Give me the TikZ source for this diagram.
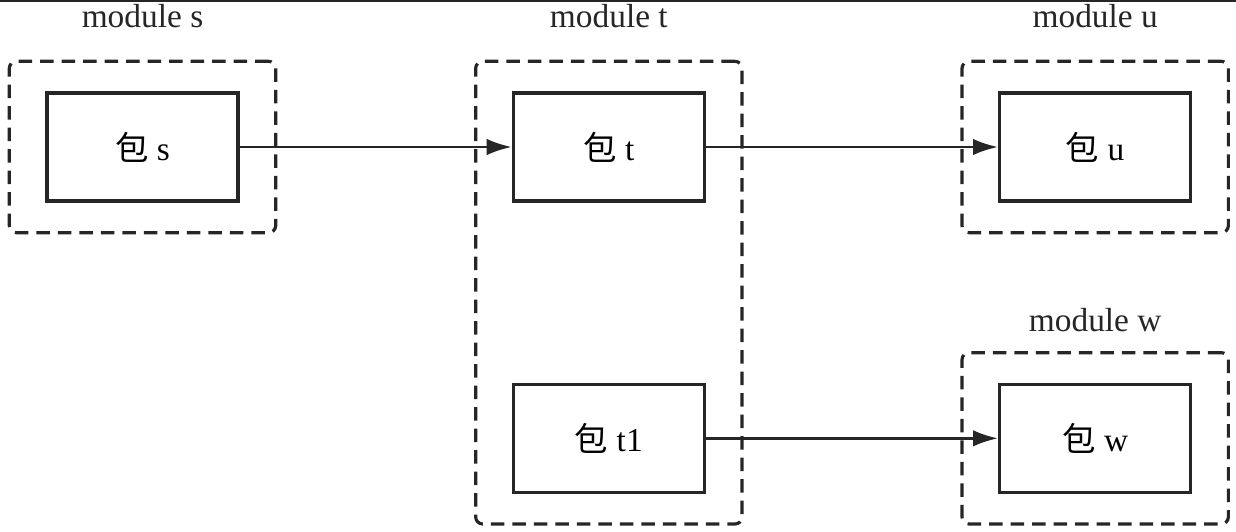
\documentclass[tikz,border=0pt]{standalone}
\usepackage{fontspec}
\setmainfont{Liberation Serif}
\newfontfamily\cjk{Noto Sans CJK SC}
\usepackage{xcolor}
\definecolor{lineDark}{HTML}{262626}
\usetikzlibrary{positioning,fit,arrows.meta}
\tikzset{%
  pkgBox/.style={%
    rectangle,
    draw=lineDark,
    line width=1.9pt,
    minimum width=3.82cm,
    minimum height=2.16cm,
    align=center,
    font=\fontsize{19}{23}\selectfont
  },
  moduleBox/.style={%
    rectangle,
    rounded corners=4pt,
    draw=lineDark,
    line width=1.8pt,
    dash pattern=on 0.27cm off 0.16cm,
    inner xsep=0.72cm,
    inner ysep=0.6cm
  },
  moduleLabel/.style={%
    font=\fontsize{19}{23}\selectfont,
    text=lineDark,
    inner sep=0pt
  },
  arrowLine/.style={%
    -{Latex[length=5mm,width=3.3mm]},
    line width=1.5pt,
    color=lineDark
  }
}
\begin{document}
\begin{tikzpicture}
  \useasboundingbox (0,0) rectangle (24.72,10.62);
  \draw[lineDark, line width=1.2pt] (0,10.6) coordinate (topL) -- (24.72,10.6) coordinate (topR);

  \node[pkgBox] (pkgS) at (2.85,7.68) {{\cjk 包} s};
  \node[pkgBox, right=5.44cm of pkgS] (pkgT) {{\cjk 包} t};
  \node[pkgBox, right=5.84cm of pkgT] (pkgU) {{\cjk 包} u};
  \node[pkgBox, below=3.6cm of pkgT] (pkgT1) {{\cjk 包} t1};
  \node[pkgBox, right=5.84cm of pkgT1] (pkgW) {{\cjk 包} w};

  \node[moduleBox, fit=(pkgS)] (modS) {};
  \node[moduleBox, fit=(pkgT) (pkgT1)] (modT) {};
  \node[moduleBox, fit=(pkgU)] (modU) {};
  \node[moduleBox, fit=(pkgW)] (modW) {};

  \node[moduleLabel, above=0.64cm of modS] {module s};
  \node[moduleLabel, above=0.64cm of modT] {module t};
  \node[moduleLabel, above=0.64cm of modU] {module u};
  \node[moduleLabel, above=0.38cm of modW] {module w};

  \draw[arrowLine] (pkgS) -- (pkgT);
  \draw[arrowLine] (pkgT) -- (pkgU);
  \draw[arrowLine] (pkgT1) -- (pkgW);
\end{tikzpicture}
\end{document}
